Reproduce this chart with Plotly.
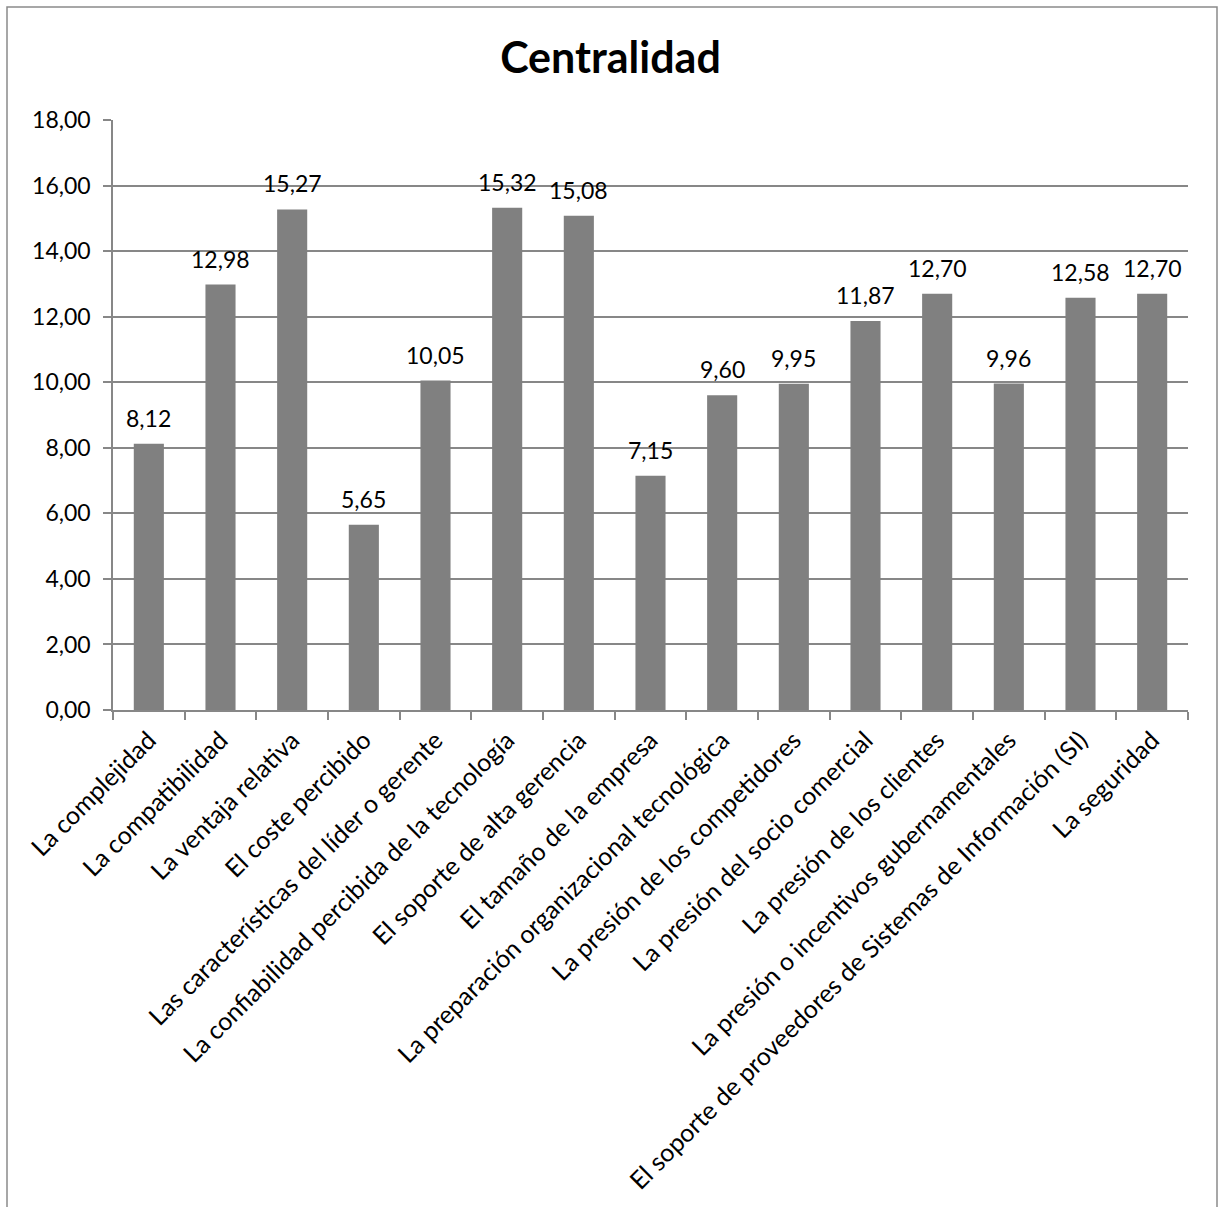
import plotly.graph_objects as go

categories = [
    "La complejidad",
    "La compatibilidad",
    "La ventaja relativa",
    "El coste percibido",
    "Las características del líder o gerente",
    "La confiabilidad percibida de la tecnología",
    "El soporte de alta gerencia",
    "El tamaño de la empresa",
    "La preparación organizacional tecnológica",
    "La presión de los competidores",
    "La presión del socio comercial",
    "La presión de los clientes",
    "La presión o incentivos gubernamentales",
    "El soporte de proveedores de Sistemas de Información (SI)",
    "La seguridad",
]
values = [8.12, 12.98, 15.27, 5.65, 10.05, 15.32, 15.08, 7.15, 9.60, 9.95, 11.87, 12.70, 9.96, 12.58, 12.70]
y_ticks = [0, 2, 4, 6, 8, 10, 12, 14, 16, 18]

labels = [f"{v:.2f}".replace(".", ",") for v in values]
tick_text = [f"{t:.2f}".replace(".", ",") for t in y_ticks]

FONT = "Lato, Calibri, Carlito, sans-serif"
GRID = "#878787"

fig = go.Figure()
fig.add_trace(
    go.Bar(
        x=categories,
        y=values,
        marker=dict(color="#808080", line=dict(width=0)),
        hoverinfo="x+y",
    )
)

annotations = [
    dict(
        x=c,
        y=v,
        xref="x",
        yref="y",
        text=t,
        showarrow=False,
        xanchor="center",
        yanchor="bottom",
        yshift=10,
        font=dict(size=23, color="black", family=FONT),
    )
    for c, v, t in zip(categories, values, labels)
]

W, H = 1221, 1207
ml, mr, mt, mb = 113, 33, 120, 497
pw = W - ml - mr
ph = H - mt - mb

fig.update_layout(
    width=W,
    height=H,
    margin=dict(l=ml, r=mr, t=mt, b=mb, pad=0),
    paper_bgcolor="white",
    plot_bgcolor="white",
    bargap=0.58,
    showlegend=False,
    title=dict(
        text="<b>Centralidad</b>",
        x=0.5,
        xanchor="center",
        y=1 - 58 / H,
        yanchor="middle",
        font=dict(size=43, color="black", family=FONT),
    ),
    font=dict(family=FONT, color="black"),
    annotations=annotations,
    xaxis=dict(
        type="category",
        range=[-0.5, len(categories) - 0.5],
        tickangle=-45,
        tickfont=dict(size=25, color="black", family=FONT),
        ticklabelstandoff=4,
        showline=True,
        linecolor=GRID,
        linewidth=1.5,
        ticks="outside",
        tickson="boundaries",
        ticklen=8,
        tickcolor=GRID,
        tickwidth=1.5,
        showgrid=False,
    ),
    yaxis=dict(
        range=[0, 18],
        tickvals=y_ticks,
        ticktext=tick_text,
        tickfont=dict(size=23, color="black", family=FONT),
        ticklabelstandoff=8,
        showline=True,
        linecolor=GRID,
        linewidth=1.5,
        ticks="outside",
        ticklen=8,
        tickcolor=GRID,
        tickwidth=1.5,
        showgrid=True,
        gridcolor=GRID,
        gridwidth=1.5,
        zeroline=False,
    ),
    shapes=[
        dict(
            type="rect",
            xref="paper",
            yref="paper",
            x0=(7 - ml) / pw,
            x1=(1217 - ml) / pw,
            y0=(H - mb - 1230) / ph,
            y1=(H - mb - 7) / ph,
            line=dict(color="#8a8a8a", width=1.5),
            fillcolor="rgba(0,0,0,0)",
            layer="below",
        )
    ],
)

fig.write_html("out.html")
